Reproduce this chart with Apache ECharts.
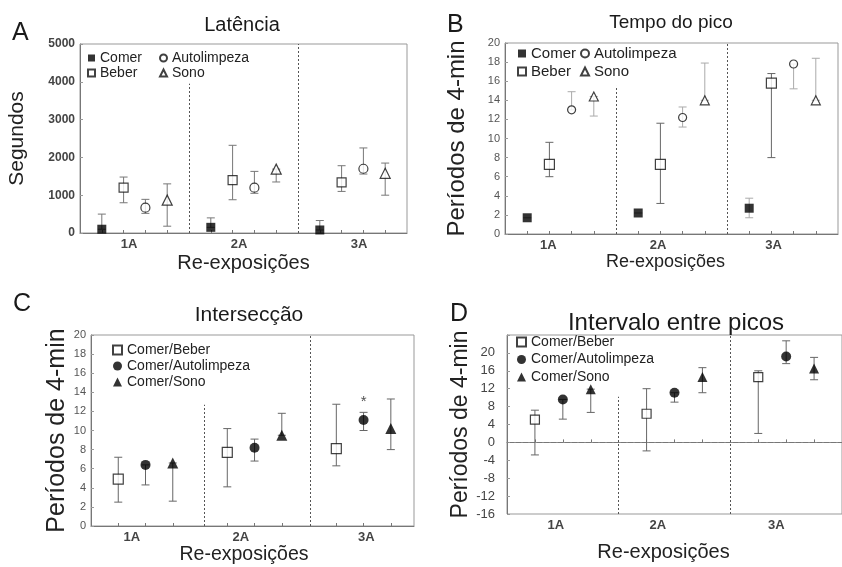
<!DOCTYPE html>
<html>
<head>
<meta charset="utf-8">
<script src="https://cdn.jsdelivr.net/npm/echarts@6/dist/echarts.min.js"></script>
<style>
  html, body { margin: 0; padding: 0; background: #fff; }
  #chart { width: 842px; height: 567px; }
</style>
</head>
<body>
<div id="chart"></div>
<script>
const categories = ['1A', '2A', '3A'];

// A - Latência (segundos)
const latComer = [100, 150, 80];
const latComerLo = [100, 150, 80];
const latComerHi = [500, 400, 330];
const latBeber = [1200, 1400, 1340];
const latBeberLo = [800, 880, 1100];
const latBeberHi = [1480, 2320, 1780];
const latAuto = [670, 1200, 1700];
const latAutoLo = [520, 1050, 1560];
const latAutoHi = [890, 1630, 2250];
const latSono = [870, 1690, 1580];
const latSonoLo = [180, 1350, 1000];
const latSonoHi = [1300, 1690, 1850];

// B - Tempo do pico (períodos de 4 min)
const picoComer = [1.7, 2.2, 2.7];
const picoComerLo = [1.7, 2.2, 1.7];
const picoComerHi = [1.7, 2.2, 3.75];
const picoBeber = [7.3, 7.3, 15.8];
const picoBeberLo = [6.0, 3.2, 8.0];
const picoBeberHi = [9.6, 11.6, 16.8];
const picoAuto = [13.0, 12.2, 17.8];
const picoAutoLo = [13.0, 11.2, 15.2];
const picoAutoHi = [14.9, 13.3, 17.8];
const picoSono = [14.4, 14.0, 14.0];
const picoSonoLo = [12.35, 14.0, 14.0];
const picoSonoHi = [14.4, 17.9, 18.4];

// C - Intersecção
const interBeber = [4.9, 7.7, 8.1];
const interBeberLo = [2.5, 4.1, 6.3];
const interBeberHi = [7.2, 10.2, 12.75];
const interAuto = [6.4, 8.2, 11.1];
const interAutoLo = [4.3, 6.8, 10.0];
const interAutoHi = [6.4, 9.1, 11.9];
const interSono = [6.6, 9.5, 10.2];
const interSonoLo = [2.6, 9.5, 8.0];
const interSonoHi = [6.6, 11.8, 13.3];
const interStar = [null, null, 13.0];

// D - Intervalo entre picos
const intvBeber = [5.1, 6.4, 14.6];
const intvBeberLo = [-2.8, -1.9, 2.0];
const intvBeberHi = [7.2, 12.0, 16.0];
const intvAuto = [9.6, 11.1, 19.2];
const intvAutoLo = [5.2, 9.0, 17.6];
const intvAutoHi = [9.6, 11.1, 22.7];
const intvSono = [11.9, 14.6, 16.5];
const intvSonoLo = [6.7, 11.1, 14.0];
const intvSonoHi = [11.9, 16.7, 19.0];

const FONT = 'Liberation Sans, Arial, sans-serif';
const chart = echarts.init(document.getElementById('chart'));

const panels = [
  { base: [1, 6, 11], labelAt: [2.25, 7.3, 12.8] },   // A
  { base: [1, 6, 11], labelAt: [1.95, 6.9, 12.1] },   // B
  { base: [1, 5, 9], labelAt: [1.5, 5.5, 10.1] },     // C
  { base: [1, 5, 9], labelAt: [1.75, 5.4, 9.65] },    // D
];

function renderErr(params, api) {
  const x = api.value(0);
  const lo = api.coord([x, api.value(1)]);
  const hi = api.coord([x, api.value(2)]);
  const w = 4;
  const style = { stroke: api.visual('color'), lineWidth: 1 };
  return {
    type: 'group',
    children: [
      { type: 'line', shape: { x1: lo[0], y1: lo[1], x2: hi[0], y2: hi[1] }, style },
      { type: 'line', shape: { x1: lo[0] - w, y1: lo[1], x2: lo[0] + w, y2: lo[1] }, style },
      { type: 'line', shape: { x1: hi[0] - w, y1: hi[1], x2: hi[0] + w, y2: hi[1] }, style },
    ],
  };
}

const series = [];

function addGroup(p, name, mean, lo, hi, slot, look) {
  const base = panels[p].base;
  series.push({
    type: 'custom',
    name: name + ' (erro)',
    xAxisIndex: p, yAxisIndex: p,
    renderItem: renderErr,
    encode: { x: 0, y: [1, 2] },
    itemStyle: { color: look.bar || '#666' },
    data: mean.map((v, i) => [base[i] + slot, lo[i], hi[i]]),
    z: 2,
  });
  const s = {
    type: 'scatter',
    name: name,
    xAxisIndex: p, yAxisIndex: p,
    symbol: look.symbol,
    symbolSize: look.size,
    itemStyle: look.filled
      ? { color: '#000' }
      : { color: '#fff', borderColor: '#111', borderWidth: 1.2 },
    data: mean.map((v, i) => [base[i] + slot, v]),
    z: 3,
  };
  series.push(s);
  return s;
}

// A
let sA = addGroup(0, 'Comer', latComer, latComerLo, latComerHi, 0, { symbol: 'rect', size: 9, filled: true, bar: '#777' });
addGroup(0, 'Beber', latBeber, latBeberLo, latBeberHi, 1, { symbol: 'rect', size: 9, bar: '#777' });
addGroup(0, 'Autolimpeza', latAuto, latAutoLo, latAutoHi, 2, { symbol: 'circle', size: 9, bar: '#777' });
addGroup(0, 'Sono', latSono, latSonoLo, latSonoHi, 3, { symbol: 'triangle', size: 10, bar: '#777' });

// B
let sB = addGroup(1, 'Comer', picoComer, picoComerLo, picoComerHi, 0, { symbol: 'rect', size: 9, filled: true, bar: '#aaa' });
addGroup(1, 'Beber', picoBeber, picoBeberLo, picoBeberHi, 1, { symbol: 'rect', size: 10, bar: '#666' });
addGroup(1, 'Autolimpeza', picoAuto, picoAutoLo, picoAutoHi, 2, { symbol: 'circle', size: 8, bar: '#aaa' });
addGroup(1, 'Sono', picoSono, picoSonoLo, picoSonoHi, 3, { symbol: 'triangle', size: 9, bar: '#aaa' });

// C
let sC = addGroup(2, 'Comer/Beber', interBeber, interBeberLo, interBeberHi, 0, { symbol: 'rect', size: 10, bar: '#666' });
addGroup(2, 'Comer/Autolimpeza', interAuto, interAutoLo, interAutoHi, 1, { symbol: 'circle', size: 10, filled: true, bar: '#666' });
addGroup(2, 'Comer/Sono', interSono, interSonoLo, interSonoHi, 2, { symbol: 'triangle', size: 11, filled: true, bar: '#666' });
series.push({
  type: 'scatter', name: 'sig', xAxisIndex: 2, yAxisIndex: 2,
  symbolSize: 1, itemStyle: { color: 'transparent' },
  label: { show: true, position: 'inside', formatter: '*', fontSize: 15, color: '#222', fontFamily: FONT },
  data: interStar.map((v, i) => (v == null ? null : [panels[2].base[i] + 1, v])).filter(d => d),
  z: 4,
});

// D
let sD = addGroup(3, 'Comer/Beber ', intvBeber, intvBeberLo, intvBeberHi, 0, { symbol: 'rect', size: 9, bar: '#666' });
addGroup(3, 'Comer/Autolimpeza ', intvAuto, intvAutoLo, intvAutoHi, 1, { symbol: 'circle', size: 10, filled: true, bar: '#666' });
addGroup(3, 'Comer/Sono ', intvSono, intvSonoLo, intvSonoHi, 2, { symbol: 'triangle', size: 10, filled: true, bar: '#666' });

function dividers(list) {
  return {
    silent: true, symbol: 'none', label: { show: false }, animation: false,
    lineStyle: { type: [2, 2], color: '#555', width: 1 },
    data: list.map(d => [{ coord: [d[0], d[1]] }, { coord: [d[0], d[2]] }]),
  };
}
sA.markLine = dividers([[5, 0, 3950], [10, 0, 5000]]);
sB.markLine = dividers([[5, 0, 15.5], [10, 0, 20]]);
sC.markLine = dividers([[4.15, 0, 12.7], [8.05, 0, 20]]);
sD.markLine = {
  silent: true, symbol: 'none', label: { show: false }, animation: false,
  lineStyle: { type: [2, 2], color: '#555', width: 1 },
  data: [
    [{ coord: [4, -16] }, { coord: [4, 10.2] }],
    [{ coord: [8, -16] }, { coord: [8, 24] }],
    [{ coord: [0, 0], lineStyle: { color: '#888', type: [2, 5], width: 1.2 } }, { coord: [12, 0] }],
  ],
};

const grids = [
  { left: 80, top: 44, width: 327, height: 189 },
  { left: 505, top: 43, width: 333, height: 191 },
  { left: 91, top: 335, width: 323, height: 191 },
  { left: 507, top: 335, width: 342, height: 179 },
];

const xMax = [15, 15, 11.85, 12];
const xNameCfg = [
  { size: 20, gap: 20, pad: [0, 0, 0, 0] },
  { size: 18, gap: 14, pad: [0, 12, 0, 0] },
  { size: 19.5, gap: 19, pad: [0, 17, 0, 0] },
  { size: 20, gap: 28, pad: [0, 22, 0, 0] },
];

const xAxes = panels.map((p, i) => {
  const ticks = [];
  p.base.forEach(b => { for (let k = 0; k < (i < 2 ? 4 : 3); k++) ticks.push(b + k); });
  return {
    gridIndex: i, type: 'value', min: 0, max: xMax[i],
    name: 'Re-exposições', nameLocation: 'middle', nameGap: xNameCfg[i].gap,
    nameTextStyle: { fontSize: xNameCfg[i].size, color: '#222', fontFamily: FONT, padding: xNameCfg[i].pad },
    splitLine: { show: false },
    axisLine: { lineStyle: { color: '#777' } },
    axisTick: { inside: true, length: 3, lineStyle: { color: '#777' }, customValues: ticks },
    axisLabel: {
      customValues: p.labelAt, margin: 5, fontFamily: FONT,
      fontSize: 13, color: '#444', fontWeight: 'bold',
      formatter: v => {
        let best = 0;
        p.labelAt.forEach((q, k) => { if (Math.abs(q - v) < Math.abs(p.labelAt[best] - v)) best = k; });
        return categories[best];
      },
    },
  };
});

const yAxes = [
  { min: 0, max: 5000, interval: 1000, name: 'Segundos', size: 21, gap: 52, m: 5, lab: { fontSize: 12, color: '#444', fontWeight: 'bold' } },
  { min: 0, max: 20, interval: 2, name: 'Períodos de 4-min', size: 24, gap: 36, m: 5, lab: { fontSize: 11, color: '#555' } },
  { min: 0, max: 20, interval: 2, name: 'Períodos de 4-min', size: 25, gap: 21, m: 5, lab: { fontSize: 11, color: '#555' } },
  { min: -16, max: 24, interval: 4, name: 'Períodos de 4-min', size: 23, gap: 35, m: 12, lab: { fontSize: 13, color: '#444' } },
].map((y, i) => ({
  gridIndex: i, type: 'value', min: y.min, max: y.max, interval: y.interval,
  name: y.name, nameLocation: 'middle', nameGap: y.gap,
  nameTextStyle: { fontSize: y.size, color: '#222', fontFamily: FONT },
  splitLine: { show: false },
  axisLine: { show: true, lineStyle: { color: '#777' } },
  axisTick: { inside: true, length: 3, lineStyle: { color: '#999' } },
  axisLabel: { margin: y.m, fontFamily: FONT, ...y.lab, formatter: v => (i === 3 && v === 24 ? '' : v) },
}));

function legend(names, left, top, gap, fontSize, icon) {
  return {
    data: names, orient: 'vertical', left, top, padding: 0,
    itemWidth: icon, itemHeight: icon, itemGap: gap, selectedMode: false,
    textStyle: { fontSize, color: '#222', fontFamily: FONT },
  };
}

const option = {
  animation: false,
  backgroundColor: '#fff',
  title: [
    { text: 'Latência', left: 242, top: 15, textAlign: 'center' },
    { text: 'Tempo do pico', left: 671, top: 13, textAlign: 'center', fs: 19 },
    { text: 'Intersecção', left: 249, top: 305, textAlign: 'center', fs: 21 },
    { text: 'Intervalo entre picos', left: 676, top: 311, textAlign: 'center', fs: 24 },
    { text: 'A', left: 12, top: 21, fs: 25 },
    { text: 'B', left: 447, top: 13, fs: 25 },
    { text: 'C', left: 13, top: 292, fs: 25 },
    { text: 'D', left: 450, top: 302, fs: 25 },
  ].map(t => ({
    text: t.text, left: t.left, top: t.top, textAlign: t.textAlign, padding: 0,
    textStyle: { fontSize: t.fs || 20, fontWeight: 'normal', color: '#1a1a1a', fontFamily: FONT },
  })),
  grid: grids.map(g => ({ ...g, show: true, borderColor: '#999', borderWidth: 1, backgroundColor: 'transparent' })),
  legend: [
    legend(['Comer', 'Beber'], 87, 51, 1, 14, 7),
    legend(['Autolimpeza', 'Sono'], 159, 51, 1, 14, 7),
    legend(['Comer', 'Beber'], 517, 46, 3, 15, 8),
    legend(['Autolimpeza', 'Sono'], 580, 46, 3, 15, 8),
    legend(['Comer/Beber', 'Comer/Autolimpeza', 'Comer/Sono'], 112, 343, 2, 14, 9),
    legend(['Comer/Beber ', 'Comer/Autolimpeza ', 'Comer/Sono '], 516, 335, 3.5, 14, 9),
  ],
  xAxis: xAxes,
  yAxis: yAxes,
  series: series,
};

chart.setOption(option);
</script>
</body>
</html>
